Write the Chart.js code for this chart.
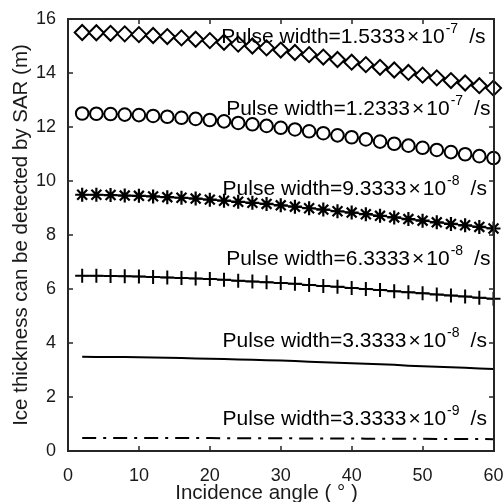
<!DOCTYPE html>
<html>
<head>
<meta charset="utf-8">
<title>Ice thickness detectable by SAR</title>
<style>
  html, body { margin: 0; padding: 0; background: #ffffff; }
  #wrap { position: relative; width: 503px; height: 502px; }
  #chart { position: absolute; left: 0; top: 0; }
  #axesFrame { position: absolute; box-sizing: border-box; border: 2px solid #262626; pointer-events: none; display: none; }
</style>
<script src="https://cdn.jsdelivr.net/npm/chart.js@4/dist/chart.umd.min.js"></script>
</head>
<body>
<div id="wrap">
  <canvas id="chart" width="503" height="502"></canvas>
  <div id="axesFrame"></div>
</div>
<script>
// Incidence angle (degrees)
const angles = [2, 4, 6, 8, 10, 12, 14, 16, 18, 20, 22, 24, 26, 28, 30,
                32, 34, 36, 38, 40, 42, 44, 46, 48, 50, 52, 54, 56, 58, 60];

// Detectable ice thickness (m) for each pulse width
const depthP153e9 = [15.50, 15.49, 15.47, 15.45, 15.42, 15.39, 15.35, 15.30, 15.25, 15.20,
                     15.14, 15.07, 15.00, 14.93, 14.85, 14.76, 14.68, 14.59, 14.50, 14.40,
                     14.31, 14.21, 14.11, 14.02, 13.92, 13.82, 13.72, 13.63, 13.53, 13.44];
const depthP123e9 = [12.50, 12.49, 12.48, 12.46, 12.44, 12.41, 12.38, 12.34, 12.30, 12.26,
                     12.21, 12.15, 12.10, 12.04, 11.97, 11.91, 11.84, 11.77, 11.69, 11.62,
                     11.54, 11.46, 11.38, 11.31, 11.23, 11.15, 11.07, 10.99, 10.92, 10.85];
const depthP93e9  = [9.49, 9.49, 9.48, 9.46, 9.45, 9.43, 9.40, 9.38, 9.35, 9.31,
                     9.27, 9.23, 9.19, 9.15, 9.10, 9.05, 8.99, 8.94, 8.88, 8.83,
                     8.77, 8.71, 8.65, 8.59, 8.53, 8.47, 8.41, 8.36, 8.30, 8.24];
const depthP63e9  = [6.49, 6.49, 6.48, 6.47, 6.46, 6.44, 6.43, 6.41, 6.39, 6.37,
                     6.34, 6.31, 6.28, 6.25, 6.22, 6.19, 6.15, 6.11, 6.08, 6.04,
                     6.00, 5.96, 5.92, 5.88, 5.84, 5.80, 5.76, 5.72, 5.68, 5.64];
const depthP33e9  = [3.49, 3.48, 3.48, 3.48, 3.47, 3.46, 3.45, 3.44, 3.43, 3.42,
                     3.41, 3.39, 3.38, 3.36, 3.35, 3.33, 3.31, 3.29, 3.27, 3.25,
                     3.23, 3.21, 3.19, 3.16, 3.14, 3.12, 3.10, 3.08, 3.06, 3.04];
const depthP3e9   = [0.484, 0.484, 0.483, 0.483, 0.482, 0.482, 0.481, 0.480, 0.479, 0.477,
                     0.476, 0.475, 0.473, 0.471, 0.470, 0.468, 0.466, 0.464, 0.462, 0.460,
                     0.458, 0.456, 0.454, 0.452, 0.450, 0.447, 0.445, 0.443, 0.441, 0.439];

// Pulse width captions (mantissa x 10^exponent s)
const pulseMantissas = ['1.5333', '1.2333', '9.3333', '6.3333', '3.3333', '3.3333'];
const pulseExponents = ['-7', '-7', '-8', '-8', '-8', '-9'];

// Axis ticks
const xTickValues = [0, 10, 20, 30, 40, 50, 60];
const yTickValues = [0, 2, 4, 6, 8, 10, 12, 14, 16];

// Caption anchors in data units (left edge, baseline)
const captionAnchorX = [21.6, 22.3, 21.8, 22.3, 21.8, 21.8];
const captionAnchorY = [15.11, 12.44, 9.48, 6.89, 3.85, 0.96];

const FONT = 'Liberation Sans, Arial, sans-serif';
const INK = '#1a1a1a';
const AXIS_INK = '#262626';

const toPoints = arr => angles.map((a, i) => ({ x: a, y: arr[i] }));

// Edge grid lines form the axes box; inner ones stay hidden
const edgeOnly = (min, max) => ctx => {
  const v = ctx.tick ? ctx.tick.value : NaN;
  return (v === min || v === max) ? AXIS_INK : 'rgba(0,0,0,0)';
};

// Pulse width captions written with a raised exponent
const captionPlugin = {
  id: 'pulseCaptions',
  afterDatasetsDraw(chart) {
    const ctx = chart.ctx;
    const x = chart.scales.x, y = chart.scales.y;
    ctx.save();
    ctx.fillStyle = '#000';
    ctx.textBaseline = 'alphabetic';
    ctx.textAlign = 'left';
    for (let i = 0; i < pulseMantissas.length; i++) {
      let px = x.getPixelForValue(captionAnchorX[i]);
      const py = y.getPixelForValue(captionAnchorY[i]);
      ctx.font = '21px ' + FONT;
      const main = 'Pulse width=' + pulseMantissas[i];
      ctx.fillText(main, px, py);
      px += ctx.measureText(main).width + 2;
      ctx.fillText('\u00d7', px, py);
      px += ctx.measureText('\u00d7').width + 2;
      ctx.fillText('10', px, py);
      px += ctx.measureText('10').width + 1;
      ctx.font = '14px ' + FONT;
      ctx.fillText(pulseExponents[i], px, py - 10);
      px += ctx.measureText(pulseExponents[i]).width + 11;
      ctx.font = '21px ' + FONT;
      ctx.fillText('/s', px, py);
    }
    ctx.restore();
  }
};

// Axes box and inward tick marks, drawn over the data
const boxPlugin = {
  id: 'axesBox',
  afterDraw(chart) {
    const ctx = chart.ctx;
    const x = chart.scales.x, y = chart.scales.y;
    const left = Math.round(x.getPixelForValue(0));
    const right = Math.round(x.getPixelForValue(60));
    const top = Math.round(y.getPixelForValue(16));
    const bottom = Math.round(y.getPixelForValue(0));
    ctx.save();
    ctx.setLineDash([]);
    ctx.globalAlpha = 1;
    ctx.globalCompositeOperation = 'source-over';
    ctx.fillStyle = AXIS_INK;
    const tl = 5, tw = 1.5, bw = 2;
    xTickValues.forEach(v => {
      const px = Math.round(x.getPixelForValue(v));
      ctx.fillRect(px - tw / 2, bottom - tl, tw, tl);
      ctx.fillRect(px - tw / 2, top, tw, tl);
    });
    yTickValues.forEach(v => {
      const py = Math.round(y.getPixelForValue(v));
      ctx.fillRect(left, py - tw / 2, tl, tw);
      ctx.fillRect(right - tl, py - tw / 2, tl, tw);
    });
    ctx.fillRect(left - bw / 2, top - bw / 2, right - left + bw, bw);
    ctx.fillRect(left - bw / 2, bottom - bw / 2, right - left + bw, bw);
    ctx.fillRect(left - bw / 2, top - bw / 2, bw, bottom - top + bw);
    ctx.fillRect(right - bw / 2, top - bw / 2, bw, bottom - top + bw);
    ctx.restore();
  }
};

function series(values, extra) {
  return Object.assign({
    data: toPoints(values), borderColor: '#000', pointBorderColor: '#000',
    clip: false, tension: 0
  }, extra);
}

const chart = new Chart(document.getElementById('chart'), {
  type: 'line',
  data: {
    datasets: [
      series(depthP153e9, { borderWidth: 1.5, pointStyle: 'rectRot', pointRadius: 7.5,
                            pointBorderWidth: 2, pointBackgroundColor: '#fff' }),
      series(depthP123e9, { borderWidth: 1.5, pointStyle: 'circle', pointRadius: 6.3,
                            pointBorderWidth: 2, pointBackgroundColor: '#fff' }),
      series(depthP93e9,  { borderWidth: 1.5, pointStyle: 'star', pointRadius: 7,
                            pointBorderWidth: 2.2 }),
      series(depthP63e9,  { borderWidth: 1.5, pointStyle: 'cross', pointRadius: 7,
                            pointBorderWidth: 2 }),
      series(depthP33e9,  { borderWidth: 2, pointRadius: 0 }),
      series(depthP3e9,   { borderWidth: 2, pointRadius: 0, borderDash: [14, 7, 3, 7] })
    ]
  },
  options: {
    responsive: false,
    animation: false,
    events: [],
    layout: { padding: { left: 0, top: 19, right: 8, bottom: 0 } },
    plugins: { legend: { display: false }, tooltip: { enabled: false } },
    scales: {
      x: {
        type: 'linear', min: 0, max: 60,
        afterBuildTicks: s => { s.ticks = xTickValues.map(v => ({ value: v })); },
        afterFit: s => { s.height = 51; s.paddingLeft = 0; s.paddingRight = 0; },
        grid: { display: true, drawTicks: false, lineWidth: 2, color: edgeOnly(0, 60) },
        border: { display: true, color: AXIS_INK, width: 2 },
        ticks: { padding: 14, color: INK, font: { family: FONT, size: 18 }, maxRotation: 0 },
        title: {
          display: true, text: 'Incidence angle ( \u00b0 )     ', color: INK,
          font: { family: FONT, size: 20.5 }, padding: { top: 0, bottom: -4 }
        }
      },
      y: {
        type: 'linear', min: 0, max: 16,
        afterBuildTicks: s => { s.ticks = yTickValues.map(v => ({ value: v })); },
        afterFit: s => { s.width = 68; s.paddingTop = 0; s.paddingBottom = 0; },
        grid: { display: true, drawTicks: false, lineWidth: 2, color: edgeOnly(0, 16) },
        border: { display: true, color: AXIS_INK, width: 2 },
        ticks: { padding: 12, color: INK, font: { family: FONT, size: 18 } },
        title: {
          display: true, text: 'Ice thickness can be detected by SAR (m)', color: INK,
          font: { family: FONT, size: 20.5 }, padding: { top: 9, bottom: 0 }
        }
      }
    }
  },
  plugins: [captionPlugin, boxPlugin]
});

// Outline of the plot area taken from the laid-out chart area
(function placeFrame() {
  const a = chart.chartArea;
  const f = document.getElementById('axesFrame');
  f.style.left = (a.left - 1) + 'px';
  f.style.top = (a.top - 1) + 'px';
  f.style.width = (a.right - a.left + 2) + 'px';
  f.style.height = (a.bottom - a.top + 2) + 'px';
  f.style.display = 'block';
})();
</script>
</body>
</html>
